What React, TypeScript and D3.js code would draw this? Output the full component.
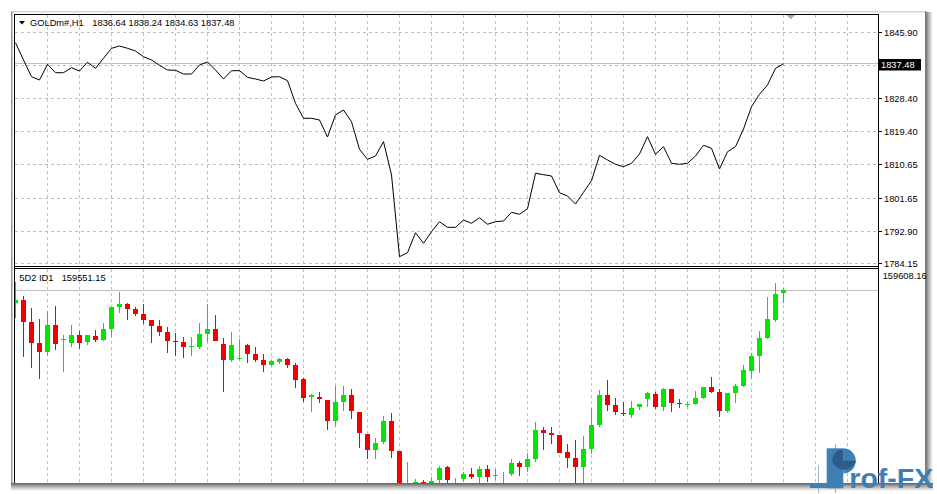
import React from "react";
import * as d3 from "d3";

const W = 937;
const H = 494;

const symbolLabel = "GOLDm#,H1";
const ohlcLabel = "1836.64 1838.24 1834.63 1837.48";
const priceTicks = [1845.9, 1837.15, 1828.4, 1819.4, 1810.65, 1801.65, 1792.9, 1784.15];
const lastPrice = 1837.48;
const closePrices = [
  1843.12, 1838.5, 1834.03, 1833.15, 1837.35, 1835.1, 1835.1, 1836.44, 1835.56, 1837.88,
  1836.28, 1838.95, 1841.62, 1842.24, 1841.62, 1840.9, 1839.38, 1838.5, 1837.08, 1835.82,
  1835.74, 1834.75, 1834.75, 1837.16, 1837.96, 1835.82, 1833.42, 1835.64, 1835.64, 1833.87,
  1833.42, 1832.88, 1833.95, 1834.03, 1832.96, 1826.92, 1822.91, 1822.91, 1822.46, 1817.91,
  1823.79, 1825.13, 1822.0, 1814.62, 1811.95, 1812.83, 1816.66, 1807.75, 1785.92, 1786.98,
  1792.33, 1789.5, 1792.6, 1795.27, 1793.77, 1793.77, 1795.73, 1794.84, 1796.34, 1794.58,
  1795.27, 1795.46, 1797.78, 1797.25, 1798.75, 1808.21, 1807.84, 1807.49, 1803.02, 1802.14,
  1800.0, 1803.13, 1806.23, 1813.02, 1811.76, 1810.62, 1809.97, 1810.88, 1813.37, 1817.99,
  1813.29, 1815.32, 1810.88, 1810.62, 1810.88, 1812.83, 1815.69, 1814.89, 1809.36, 1813.98,
  1815.32, 1820.05, 1826.01, 1829.33, 1831.81, 1836.28, 1837.48,
];

const indName = "5D2 ID1";
const indValue = 159551.15;
const indTopLabel = "159608.16";
const indOpen = [
  159496.8, 159510, 159423.2, 159339.2, 159303.2, 159410, 159350, 159336.8, 159370, 159343.2,
  159366, 159350, 159394, 159483.2, 159492.8, 159474, 159454, 159430, 159407.2, 159383.2,
  159347.2, 159343.2, 159324, 159323.2, 159374, 159392.8, 159334, 159270, 159274, 159330,
  159294, 159270, 159250, 159260.8, 159274, 159250, 159194, 159124, 159120.8, 159110,
  159027.2, 159103.2, 159130, 159062, 158974, 158910, 158943.2, 159026, 158906, 158742,
  158766, 158782, 158766, 158790, 158842, 158766, 158794, 158814, 158803.2, 158834,
  158810, 158766, 158814, 158858, 158843.2, 158874, 158990, 158979.2, 158970, 158903.2,
  158879.2, 158843.2, 158914, 159010, 159130, 159090, 159060, 159050, 159080.8, 159112.8,
  159134, 159083.2, 159154, 159098, 159092, 159094, 159116.8, 159163.2, 159140.8, 159067.2,
  159139.2, 159167.2, 159227.2, 159287.2, 159356.8, 159430, 159536.8,
];
const indHigh = [
  159583.2, 159526, 159479.2, 159434, 159466, 159487.2, 159370, 159410, 159386, 159370,
  159390, 159416.8, 159480.8, 159542, 159496.8, 159480.8, 159494, 159430, 159430, 159403.2,
  159376.8, 159363.2, 159360.8, 159419.2, 159494, 159450, 159356.8, 159383.2, 159354, 159334,
  159320.8, 159294, 159270, 159276.8, 159276.8, 159258, 159198, 159134, 159142, 159110,
  159166, 159166, 159154, 159062, 158974, 158956.8, 159046, 159059.2, 158906, 158863.2,
  158794, 158790, 158803.2, 158846, 158846, 158799.2, 158823.2, 158839.2, 158846, 158850,
  158834, 158823.2, 158874, 158866, 158896.8, 159022, 159000.8, 159000.8, 158970, 158934,
  158950, 158966, 159079.2, 159150, 159190, 159116.8, 159100.8, 159106, 159094, 159143.2,
  159143.2, 159159.2, 159154, 159114, 159103.2, 159146, 159163.2, 159203.2, 159154, 159139.2,
  159172.8, 159250, 159296.8, 159386, 159520.8, 159576.8, 159556.8,
];
const indLow = [
  159436.8, 159283.2, 159236.8, 159195.2, 159286, 159310, 159223.2, 159320.8, 159314, 159330,
  159343.2, 159347.2, 159363.2, 159459.2, 159430, 159446, 159414, 159339.2, 159367.2, 159299.2,
  159287.2, 159279.2, 159287.2, 159312.8, 159343.2, 159346, 159143.2, 159263.2, 159270, 159256.8,
  159263.2, 159223.2, 159246, 159254, 159236.8, 159159.2, 159103.2, 159063.2, 159099.2, 158990,
  159006, 159067.2, 159035.2, 158919.2, 158874, 158874, 158934, 158879.2, 158718, 158730,
  158750, 158758, 158750, 158774, 158770, 158750, 158783.2, 158794, 158778, 158780.8,
  158790, 158750, 158807.2, 158806, 158823.2, 158863.2, 158910, 158934, 158896.8, 158839.2,
  158770, 158770, 158892.8, 159003.2, 159067.2, 159050, 159047.2, 159039.2, 159070, 159083.2,
  159074, 159067.2, 159063.2, 159079.2, 159083.2, 159090, 159114, 159139.2, 159043.2, 159056.8,
  159099.2, 159163.2, 159196.8, 159216.8, 159354, 159423.2, 159496.8,
];
const indClose = [
  159510, 159423.2, 159339.2, 159303.2, 159410, 159332.8, 159354, 159370, 159339.2, 159370,
  159350, 159394, 159480.8, 159494, 159475.2, 159454, 159430, 159407.2, 159383.2, 159347.2,
  159343.2, 159320.8, 159328, 159374, 159392.8, 159346, 159270, 159330, 159278, 159294,
  159270, 159250, 159266, 159274, 159250, 159190, 159119.2, 159128, 159112.8, 159027.2,
  159102, 159130, 159067.2, 158976.8, 158910, 158938, 159026, 158907.2, 158742, 158758,
  158782, 158770, 158786, 158839.2, 158790, 158774, 158814, 158803.2, 158834, 158803.2,
  158812, 158774, 158858, 158843.2, 158874, 158990, 158979.2, 158970, 158899.2, 158876.8,
  158843.2, 158914, 159010, 159130, 159090, 159063.2, 159058, 159076.8, 159094, 159139.2,
  159083.2, 159154, 159099.2, 159096, 159094, 159116.8, 159160.8, 159143.2, 159067.2, 159139.2,
  159167.2, 159230, 159287.2, 159356.8, 159432.8, 159534, 159551.15,
];

const logoText = "rof-FX";

const FONT = "'Liberation Sans', Arial, sans-serif";
const GRID = "#c0c0c0";
const BULL = "#00e600";
const BEAR = "#f00000";

export default function App() {
  const left = 15;
  const right = 878;
  const topT = 15;
  const topB = 266;
  const lowT = 269;
  const lowB = 483;

  const x = d3.scaleLinear().domain([0, 1]).range([15.5, 23.5]);
  const yTop = d3.scaleLinear().domain([1784.15, 1845.9]).range([263.3, 32.3]);
  const yLow = d3.scaleLinear().domain([158778, 159638]).range([483, 268]);

  const line = d3
    .line<number>()
    .x((_, i) => x(i))
    .y((d) => yTop(d));

  const gridIdx = d3.range(4, 108, 4);
  const lastY = Math.round(yTop(lastPrice));

  return (
    <svg
      width={W}
      height={H}
      style={{ position: "absolute", left: 0, top: 0, display: "block" }}
      fontFamily={FONT}
    >
      <defs>
        <linearGradient id="shR" x1="0" x2="1" y1="0" y2="0">
          <stop offset="0" stopColor="#5a5a5a" />
          <stop offset="0.4" stopColor="#a8a8a8" />
          <stop offset="1" stopColor="#ffffff" />
        </linearGradient>
        <linearGradient id="shB" x1="0" x2="0" y1="0" y2="1">
          <stop offset="0" stopColor="#5a5a5a" />
          <stop offset="0.4" stopColor="#a8a8a8" />
          <stop offset="1" stopColor="#ffffff" />
        </linearGradient>
        <clipPath id="cTop">
          <rect x={left} y={topT} width={right - left} height={topB - topT} />
        </clipPath>
        <clipPath id="cLow">
          <rect x={left} y={lowT} width={right - left} height={lowB - lowT} />
        </clipPath>
      </defs>
      <rect x={0} y={0} width={W} height={H} fill="#ffffff" />

      {/* window frame & shadow */}
      <rect x={925} y={12} width={8} height={479} fill="url(#shR)" />
      <rect x={11} y={483} width={922} height={8} fill="url(#shB)" />
      <line x1={11} x2={925} y1={11.5} y2={11.5} stroke="#d4d4d4" />
      <line x1={11} x2={925} y1={12.5} y2={12.5} stroke="#ececec" />
      <line x1={11.5} x2={11.5} y1={11} y2={483} stroke="#9a9a9a" />
      <line x1={12.5} x2={12.5} y1={11} y2={483} stroke="#c8c8c8" />

      {/* top panel grid */}
      <g clipPath="url(#cTop)" shapeRendering="crispEdges">
        {gridIdx.map((i) => (
          <line
            key={"vt" + i}
            x1={Math.floor(x(i)) + 0.5}
            x2={Math.floor(x(i)) + 0.5}
            y1={topT}
            y2={topB}
            stroke={GRID}
            strokeDasharray="3,3"
          />
        ))}
        {priceTicks.map((p) => (
          <line
            key={"ht" + p}
            x1={left}
            x2={right}
            y1={Math.round(yTop(p)) + 0.5}
            y2={Math.round(yTop(p)) + 0.5}
            stroke={GRID}
            strokeDasharray="3,3"
          />
        ))}
        <line x1={left} x2={right} y1={lastY - 0.5} y2={lastY - 0.5} stroke={GRID} />
      </g>
      <g clipPath="url(#cTop)">
        <path d={line(closePrices) || ""} fill="none" stroke="#000" strokeWidth={1} />
      </g>

      {/* lower panel */}
      <g clipPath="url(#cLow)" shapeRendering="crispEdges">
        {gridIdx.map((i) => (
          <line
            key={"vl" + i}
            x1={Math.floor(x(i)) + 0.5}
            x2={Math.floor(x(i)) + 0.5}
            y1={lowT}
            y2={lowB}
            stroke={GRID}
            strokeDasharray="3,3"
          />
        ))}
        <line
          x1={left}
          x2={right}
          y1={Math.round(yLow(indValue)) + 0.5}
          y2={Math.round(yLow(indValue)) + 0.5}
          stroke={GRID}
        />
        {indOpen.map((o, i) => {
          const c = indClose[i];
          const hi = indHigh[i];
          const lo = indLow[i];
          const col = c >= o ? BULL : BEAR;
          const cx = Math.floor(x(i)) + 0.5;
          const yb1 = yLow(Math.max(o, c));
          const yb2 = yLow(Math.min(o, c));
          const bt = Math.round(yb1);
          const bh = Math.max(1, Math.round(yb2) - bt);
          return (
            <g key={"c" + i}>
              <line x1={cx} x2={cx} y1={Math.round(yLow(hi))} y2={Math.round(yLow(lo))} stroke={col} />
              <rect x={cx - 2.5} y={bt} width={5} height={bh} fill={col} />
            </g>
          );
        })}
      </g>

      {/* borders */}
      <g shapeRendering="crispEdges" stroke="#000">
        <line x1={14} x2={879} y1={14.5} y2={14.5} />
        <line x1={14.5} x2={14.5} y1={14} y2={483} />
        <line x1={878.5} x2={878.5} y1={14} y2={483} />
        <line x1={14} x2={879} y1={266.5} y2={266.5} />
        <line x1={14} x2={879} y1={268.5} y2={268.5} />
      </g>
      <line x1={925.5} x2={925.5} y1={11} y2={484} stroke="#7a7a7a" />
      <line x1={11} x2={926} y1={483.5} y2={483.5} stroke="#6a6a6a" />

      {/* price axis */}
      <g fontSize={9.3} fill="#000">
        {priceTicks.map((p) => {
          const yy = Math.round(yTop(p)) + 0.5;
          const hidden = Math.abs(Math.round(yTop(p)) - lastY) < 8;
          return (
            <g key={"tk" + p}>
              <line x1={878} x2={882} y1={yy} y2={yy} stroke="#000" shapeRendering="crispEdges" />
              {!hidden && (
                <text x={884} y={yy + 3.4}>
                  {p.toFixed(2)}
                </text>
              )}
            </g>
          );
        })}
        <rect x={879} y={59} width={42} height={11.5} fill="#000" />
        <text x={881} y={68.2} fill="#fff">
          {lastPrice.toFixed(2)}
        </text>
        <text x={882.7} y={279}>
          {indTopLabel}
        </text>
      </g>

      {/* shift marker */}
      <path d="M786.5,15 L795,15 L790.8,19.3 Z" fill="#a6a6a6" />

      {/* panel labels */}
      <path d="M19,21 L25,21 L22,24.5 Z" fill="#000" />
      <g fontSize={9.3} fill="#000">
        <text x={30} y={26}>
          {symbolLabel}
        </text>
        <text x={92.3} y={26}>
          {ohlcLabel}
        </text>
        <text x={19.3} y={280.5}>
          {indName}
        </text>
        <text x={61.7} y={280.5}>
          {indValue.toFixed(2)}
        </text>
      </g>

      {/* watermark logo */}
      <g>
        <line x1={818.5} x2={818.5} y1={465} y2={493} stroke="#9fb4c6" />
        <line x1={835.5} x2={835.5} y1={444} y2={493} stroke="#9fb4c6" />
        <rect x={810} y={483} width={17} height={5} fill="#3f7fb3" />
        <rect x={826.7} y={448.3} width={16.6} height={40} fill="#3f7fb3" />
        <path d="M843.3,448.3 A12.5,12.5 0 0 1 843.3,473.3 Z" fill="#3f7fb3" />
        <path d="M832,460.8 A12.5,12.5 0 0 0 856,460.8 L843.3,460.8 Z" fill="#2c5d88" />
        <path d="M832,460.8 A11.3,11.3 0 0 1 843.3,449.5 L843.3,460.8 Z" fill="#2c5d88" />
        <text x={849.3} y={488.3} fontSize={28.5} fontWeight="bold" fill="#3f7fb3" fontFamily={FONT}>
          {logoText}
        </text>
      </g>
    </svg>
  );
}
